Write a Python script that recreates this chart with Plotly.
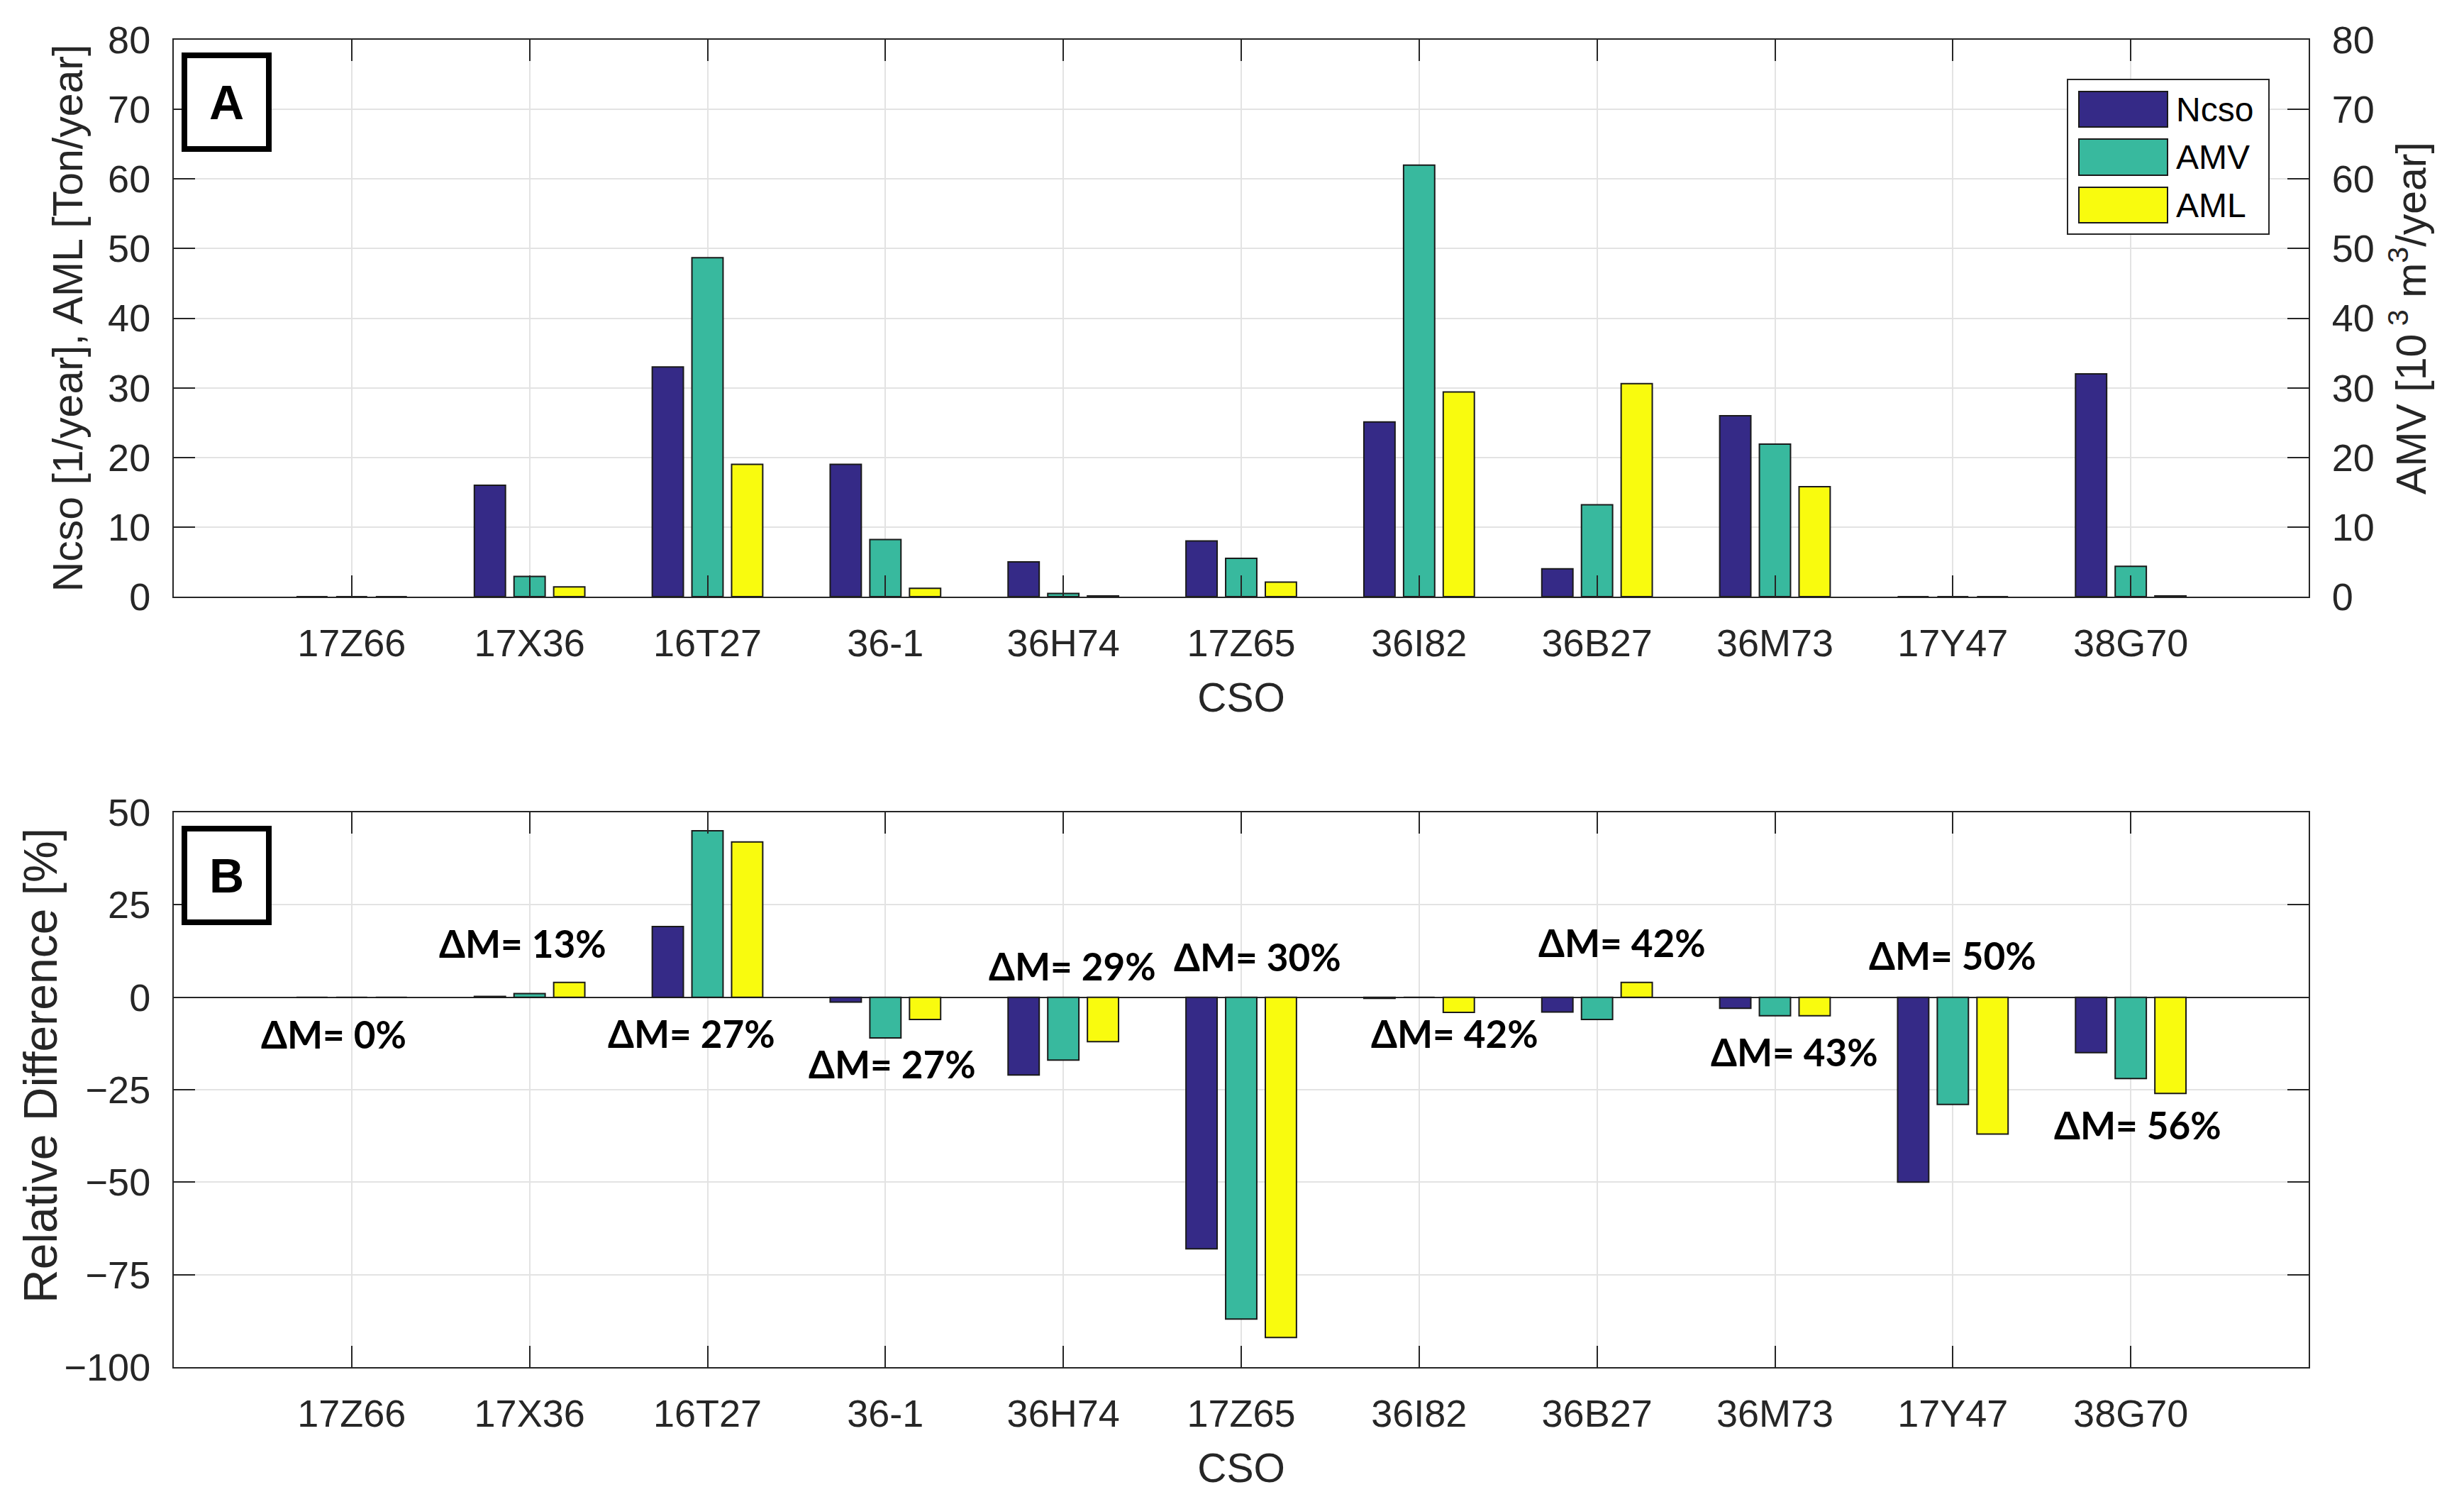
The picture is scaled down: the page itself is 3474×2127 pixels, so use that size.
import plotly.graph_objects as go

# ---------------- data ----------------
categories = ["17Z66", "17X36", "16T27", "36-1", "36H74", "17Z65",
              "36I82", "36B27", "36M73", "17Y47", "38G70"]

ncso = [0, 16.0, 33.0, 19.0, 5.0, 8.0, 25.1, 4.0, 26.0, 0, 32.0]          # 1/year
amv = [0, 2.9, 48.7, 8.2, 0.45, 5.5, 62.0, 13.2, 21.9, 0, 4.35]           # 10^3 m3/year
aml = [0, 1.4, 19.0, 1.2, 0.1, 2.1, 29.4, 30.6, 15.8, 0, 0.1]              # Ton/year

rd_ncso = [0, 0.2, 19.1, -1.3, -21.0, -68.0, -0.3, -4.0, -3.0, -50.0, -15.0]
rd_amv = [0, 1.0, 45.0, -11.0, -17.0, -87.0, 0, -6.0, -5.0, -29.0, -22.0]
rd_aml = [0, 4.0, 42.0, -6.0, -12.0, -92.0, -4.1, 4.0, -5.0, -37.0, -26.0]

dm_values = [0, 13, 27, 27, 29, 30, 42, 42, 43, 50, 56]   # ΔM [%] per CSO

series_names = ["Ncso", "AMV", "AML"]

# ---------------- style ----------------
W, H = 3474, 2127
colors = ["#352a87", "#38b99e", "#f9fb0e"]
bar_w = 0.175
offsets = [-0.3105, -0.0875, 0.1355]
axis_col = "#262626"
grid_col = "#e3e3e3"
FAM = "Liberation Sans, Arial, sans-serif"
tick_font = dict(family=FAM, size=54, color=axis_col)
title_font = dict(family=FAM, size=59, color=axis_col)
cso_font = dict(family=FAM, size=57, color=axis_col)
dm_font = dict(family="Lato, Open Sans, sans-serif", size=53, color="black")

# label placement (x in category index units, y in data units)
dm_pos = [(-0.1, -10), (0.96, 14.7), (1.91, -9.8), (3.04, -18), (4.05, 8.4),
          (5.09, 10.9), (6.2, -9.8), (7.14, 14.8), (8.11, -14.8), (9.0, 11.3),
          (10.04, -34.5)]

def px(x):
    return x / W

def py(y):
    return 1 - y / H

fig = go.Figure()

top_vals = [ncso, amv, aml]
top_axes = ["y", "y3", "y"]
for k in range(3):
    fig.add_trace(go.Bar(
        x=categories, y=top_vals[k], name=series_names[k],
        xaxis="x", yaxis=top_axes[k],
        width=bar_w, offset=offsets[k],
        marker=dict(color=colors[k], line=dict(color="#1a1a1a", width=2)),
        showlegend=False,
    ))

bot_vals = [rd_ncso, rd_amv, rd_aml]
for k in range(3):
    fig.add_trace(go.Bar(
        x=categories, y=bot_vals[k], name=series_names[k],
        xaxis="x2", yaxis="y2",
        width=bar_w, offset=offsets[k],
        marker=dict(color=colors[k], line=dict(color="#1a1a1a", width=2)),
        showlegend=False,
    ))

x_dom = [px(237), px(3247)]
top_dom = [py(833), py(48)]
bot_dom = [py(1919), py(1137)]

common_x = dict(
    type="category", categoryorder="array", categoryarray=categories,
    range=[-1, 11], showgrid=True, gridcolor=grid_col, gridwidth=2,
    showline=True, linecolor=axis_col, linewidth=2, mirror="ticks",
    ticks="inside", ticklen=30, tickwidth=2, tickcolor=axis_col,
    tickfont=tick_font, ticklabelstandoff=17, zeroline=False,
    domain=x_dom, automargin=False,
)
common_y = dict(
    showline=True, linecolor=axis_col, linewidth=2,
    ticks="inside", ticklen=30, tickwidth=2, tickcolor=axis_col,
    tickfont=tick_font, ticklabelstandoff=20, automargin=False,
)

fig.update_layout(
    width=W, height=H,
    margin=dict(l=0, r=0, t=0, b=0, autoexpand=False),
    paper_bgcolor="white", plot_bgcolor="white",
    barmode="overlay",
    showlegend=False,
    xaxis=dict(common_x, anchor="y",
               title=dict(text="CSO", font=cso_font, standoff=28)),
    yaxis=dict(common_y, domain=top_dom, anchor="x", range=[0, 80],
               tickvals=list(range(0, 81, 10)),
               showgrid=True, gridcolor=grid_col, gridwidth=2, zeroline=False,
               title=dict(text="Ncso [1/year], AML [Ton/year]", font=title_font, standoff=16)),
    yaxis3=dict(common_y, overlaying="y", side="right", anchor="x", range=[0, 80],
                tickvals=list(range(0, 81, 10)), showgrid=False, zeroline=False,
                title=dict(text="AMV [10<sup> 3</sup> m<sup>3</sup>/year]", font=title_font, standoff=32)),
    xaxis2=dict(common_x, anchor="y2",
                title=dict(text="CSO", font=cso_font, standoff=28)),
    yaxis2=dict(common_y, domain=bot_dom, anchor="x2", range=[-100, 50],
                tickvals=[-100, -75, -50, -25, 0, 25, 50], mirror="ticks",
                showgrid=True, gridcolor=grid_col, gridwidth=2,
                zeroline=True, zerolinecolor=axis_col, zerolinewidth=2),
)

annotations = []
# y-axis title of panel B (sits slightly above the axis centre in the original)
annotations.append(dict(
    x=px(49), y=py(1494), xref="paper", yref="paper",
    text="Relative Difference [%]", textangle=-90, showarrow=False,
    xanchor="center", yanchor="middle",
    font=dict(family=FAM, size=66, color=axis_col)))

for v, (xp, yp) in zip(dm_values, dm_pos):
    annotations.append(dict(
        x=xp, y=yp, xref="x2", yref="y2", text=f"<b>ΔM= {v}%</b>",
        showarrow=False, font=dm_font, xanchor="center", yanchor="middle"))

# panel letters
for letter, cy in [("A", 136), ("B", 1226)]:
    annotations.append(dict(
        x=px(311.5), y=py(cy), xref="paper", yref="paper",
        text=f"<b>{letter}</b>", showarrow=False,
        font=dict(family=FAM, size=68, color="black"),
        width=111, height=124, bordercolor="black", borderwidth=8, borderpad=0,
        bgcolor="white", xanchor="center", yanchor="middle"))

# custom legend (box, swatches, labels)
shapes = [dict(type="rect", xref="paper", yref="paper",
               x0=px(2907), x1=px(3191), y0=py(322), y1=py(104),
               line=dict(color=axis_col, width=2), fillcolor="white", layer="above")]
sw_rows = [(121, 171), (188, 239), (256, 306)]
for k, (t, b) in enumerate(sw_rows):
    shapes.append(dict(type="rect", xref="paper", yref="paper",
                       x0=px(2923), x1=px(3048), y0=py(b), y1=py(t),
                       line=dict(color="#1a1a1a", width=2), fillcolor=colors[k], layer="above"))
    annotations.append(dict(
        x=px(3058), y=py((t + b) / 2), xref="paper", yref="paper",
        text=series_names[k], showarrow=False, xanchor="left", yanchor="middle",
        font=dict(family=FAM, size=48, color="black")))

fig.update_layout(annotations=annotations, shapes=shapes)

fig.write_html("out.html")
